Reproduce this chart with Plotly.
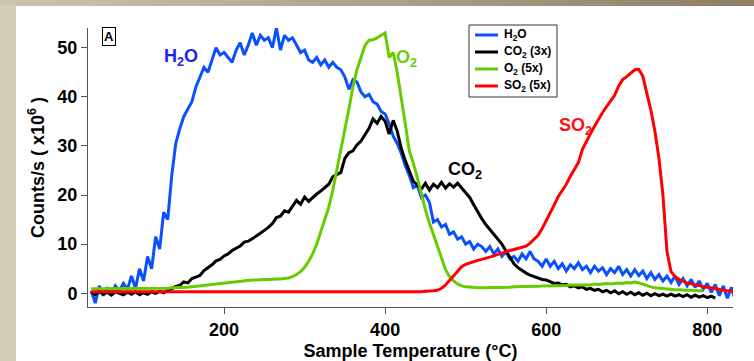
import plotly.graph_objects as go

# ---------------- data ----------------
temp_h2o = list(range(35, 840, 5))
h2o = [
    0.5, -2.0, 1.5, -0.5, 1.2, -0.3, 1.5, 0.5, 2.0, 0.8,
    3.5, 1.0, 5.0, 2.5, 7.5, 5.0, 11.5, 9.0, 16.5, 15.0,
    24.0, 30.5, 33.5, 36.0, 37.5, 39.0, 42.0, 44.0, 46.0, 45.0,
    47.5, 50.0, 48.5, 49.0, 48.0, 47.0, 49.5, 51.0, 48.5, 50.5,
    53.0, 50.5, 52.5, 51.5, 52.0, 50.0, 54.0, 49.5, 52.5, 51.5,
    52.0, 50.5, 49.0, 49.5, 47.5, 47.0, 48.0, 46.5, 47.5, 46.0,
    47.0, 46.0, 45.5, 44.0, 41.5, 43.5, 43.0, 41.0, 40.0, 40.5,
    39.0, 38.5, 37.0, 36.5, 34.5, 32.0, 30.5, 28.5, 26.0, 24.0,
    21.5, 22.0, 19.5, 20.0, 18.5, 14.5, 15.0, 13.5, 14.0, 12.0,
    12.5, 11.0, 11.5, 10.0, 10.5, 9.0, 10.0, 9.5, 8.5, 9.5,
    8.0, 9.0, 7.5, 8.5, 7.0, 7.5, 6.5, 8.0, 7.0, 8.5,
    7.0, 6.5, 5.5, 7.0, 5.5, 6.5, 5.0, 6.0, 4.5, 5.8,
    5.0, 6.2, 4.8, 5.5, 4.2, 5.5, 4.5, 5.2, 3.8, 5.0,
    4.2, 5.5, 3.8, 4.8, 3.5, 4.8, 3.6, 4.5, 3.0, 4.2,
    2.8, 3.8, 2.5, 3.5, 2.2, 3.5, 1.8, 3.0, 1.5, 2.8,
    1.2, 2.5, 0.8, 2.0, 0.2, 1.8, -0.5, 1.5, -1.0, 1.2,
    -1.5,
]

temp_co2 = list(range(35, 815, 5))
co2_3x = [
    0.2, -0.3, 0.3, -0.2, 0.2, -0.4, 0.3, 0.0, -0.3, 0.2,
    -0.2, 0.3, -0.3, 0.1, -0.2, 0.3, 0.0, 0.4, 0.1, 0.6,
    0.9, 1.4, 1.6, 2.3, 2.1, 3.0, 3.3, 3.6, 4.6, 5.2,
    5.8, 6.6, 6.9, 7.6, 8.0, 8.7, 9.2, 9.6, 10.4, 10.6,
    11.1, 11.6, 12.2, 12.8, 13.4, 14.2, 15.4, 15.7, 16.8, 16.5,
    17.8, 18.9, 18.1, 19.6, 18.7, 19.5, 20.2, 20.8, 21.6, 22.2,
    23.7, 24.2, 24.6, 27.5, 28.6, 29.0, 30.2, 31.0, 32.4, 33.6,
    35.5, 34.6, 36.0, 35.0, 32.4, 35.2, 33.0, 29.5, 27.0, 25.0,
    22.8, 22.0, 21.2, 22.4, 21.0, 22.2, 21.5, 22.6, 21.4, 22.3,
    21.6, 22.4, 21.4, 20.6, 19.5, 18.0, 16.5, 15.2, 14.0, 13.0,
    12.2, 11.2, 10.0, 8.6, 7.2, 6.0, 5.2, 4.6, 4.1, 3.7,
    3.4, 3.1, 2.8, 2.7, 2.4, 2.0, 2.1, 1.7, 1.8, 1.3,
    1.5, 1.1, 1.3, 0.8, 1.0, 0.6, 0.8, 0.3, 0.6, 0.1,
    0.5, -0.1, 0.3, -0.2, 0.2, -0.3, 0.1, -0.4, 0.0, -0.5,
    -0.1, -0.5, -0.2, -0.6, -0.2, -0.6, -0.3, -0.7, -0.3, -0.8,
    -0.4, -0.8, -0.5, -0.9, -0.6, -1.0,
]

temp_o2 = list(range(35, 800, 5))
o2_5x = [
    0.9, 0.9, 0.9, 0.9, 0.9, 0.9, 0.9, 0.9, 0.9, 0.9,
    1.0, 1.0, 1.0, 1.0, 1.0, 1.0, 1.0, 1.0, 1.0, 1.0,
    1.1, 1.1, 1.1, 1.2, 1.2, 1.3, 1.4, 1.5, 1.6, 1.7,
    1.8, 1.9, 2.0, 2.1, 2.2, 2.3, 2.4, 2.5, 2.6, 2.6,
    2.7, 2.7, 2.8, 2.8, 2.8, 2.9, 2.9, 2.9, 3.0, 3.1,
    3.4, 3.8, 4.4, 5.3, 6.5, 8.0, 10.0, 12.5, 14.8, 17.5,
    21.0, 25.0, 29.5, 33.5, 37.5, 42.0, 45.5, 48.0, 50.5, 51.5,
    51.6, 52.0, 52.5, 53.0, 48.0, 49.0, 45.0, 40.0, 34.5, 29.0,
    26.5, 23.5, 20.0, 17.0, 14.3, 12.0, 9.5, 7.0, 4.8, 3.4,
    2.5, 1.9, 1.5, 1.3, 1.2, 1.1, 1.1, 1.1, 1.1, 1.1,
    1.1, 1.2, 1.2, 1.2, 1.2, 1.3, 1.3, 1.3, 1.3, 1.4,
    1.4, 1.4, 1.5, 1.5, 1.5, 1.5, 1.6, 1.6, 1.6, 1.7,
    1.7, 1.7, 1.8, 1.8, 1.7, 1.9, 1.8, 1.9, 2.0, 1.9,
    2.0, 2.1, 2.0, 2.2, 2.1, 2.3, 2.1, 1.8, 1.5, 1.3,
    1.1, 1.0, 0.9, 0.8, 0.8, 0.7, 0.7, 0.6, 0.6, 0.6,
    0.5, 0.5, 0.5,
]

temp_so2 = list(range(35, 840, 5))
so2_5x = [
    0.3, 0.3, 0.2, 0.2, 0.3, 0.2, 0.2, 0.3, 0.2, 0.2,
    0.2, 0.3, 0.2, 0.2, 0.3, 0.2, 0.2, 0.3, 0.2, 0.2,
    0.2, 0.3, 0.2, 0.2, 0.3, 0.2, 0.2, 0.2, 0.3, 0.2,
    0.2, 0.2, 0.3, 0.2, 0.2, 0.2, 0.3, 0.2, 0.2, 0.2,
    0.3, 0.2, 0.2, 0.2, 0.3, 0.2, 0.2, 0.2, 0.2, 0.3,
    0.2, 0.2, 0.2, 0.3, 0.2, 0.2, 0.2, 0.2, 0.3, 0.2,
    0.2, 0.2, 0.3, 0.2, 0.2, 0.2, 0.3, 0.2, 0.2, 0.3,
    0.3, 0.2, 0.3, 0.3, 0.2, 0.3, 0.3, 0.3, 0.3, 0.3,
    0.3, 0.3, 0.3, 0.4, 0.4, 0.5, 0.6, 1.0, 1.7, 2.6,
    3.6, 4.6, 5.4, 5.9, 6.2, 6.5, 6.7, 6.9, 7.1, 7.4,
    7.6, 7.9, 8.2, 8.4, 8.7, 8.9, 9.1, 9.3, 9.6, 10.2,
    11.0, 11.8, 13.2, 14.7, 16.3, 18.0, 19.7, 21.0, 22.2, 23.8,
    25.2, 26.6, 29.3, 31.0, 32.5, 34.0, 35.5, 36.8, 38.0, 39.2,
    40.3, 42.2, 43.5, 44.1, 44.8, 45.5, 45.6, 44.2, 40.7, 37.3,
    33.0, 27.5, 20.0, 8.5, 4.4, 3.4, 2.8, 2.4, 2.1, 1.9,
    1.7, 1.5, 1.4, 1.2, 1.1, 0.9, 0.7, 0.6, 0.5, 0.4,
    0.3,
]

series_names = ["H<sub>2</sub>O", "CO<sub>2</sub> (3x)", "O<sub>2</sub> (5x)", "SO<sub>2</sub> (5x)"]
series_labels = ["H<sub>2</sub>O", "CO<sub>2</sub>", "O<sub>2</sub>", "SO<sub>2</sub>"]
x_ticks = [200, 400, 600, 800]
y_ticks = [0, 10, 20, 30, 40, 50]

# ---------------- style ----------------
colors = ["#0a50ff", "#000000", "#66cc00", "#ff0000"]
label_colors = ["#1c24f0", "#000000", "#66cc11", "#ff1010"]
FONT = "Liberation Sans, Arial, sans-serif"
W, H = 754, 361
PL, PR, PT, PB = 88, 733, 28, 307  # plot-area pixel box


def px(xp):
    return (xp - PL) / (PR - PL)


def py(yp):
    return (PB - yp) / (PB - PT)


fig = go.Figure()
for t, v, name, c in zip([temp_h2o, temp_co2, temp_o2, temp_so2],
                         [h2o, co2_3x, o2_5x, so2_5x], series_names, colors):
    fig.add_trace(go.Scatter(x=t, y=v, mode="lines", name=name,
                             line=dict(color=c, width=3), showlegend=False))

shapes = []
# white slide panel
shapes.append(dict(type="rect", xref="paper", yref="paper", x0=px(16), x1=px(W + 20),
                   y0=py(H + 20), y1=py(6), fillcolor="white", line=dict(width=0), layer="below"))
# top gradient strip
nseg = 40
c0 = (205, 198, 171)
c1 = (141, 126, 100)
for i in range(nseg):
    f = (i + 0.5) / nseg
    col = "rgb(%d,%d,%d)" % tuple(round(a + (b - a) * f) for a, b in zip(c0, c1))
    shapes.append(dict(type="rect", xref="paper", yref="paper",
                       x0=px(W * i / nseg - 0.5), x1=px(W * (i + 1) / nseg + 0.5),
                       y0=py(6), y1=py(-2), fillcolor=col, line=dict(width=0), layer="below"))

# manual legend
shapes.append(dict(type="rect", xref="paper", yref="paper", x0=px(469), x1=px(557),
                   y0=py(97), y1=py(25), fillcolor="white",
                   line=dict(color="#333333", width=1), layer="above"))
annotations = []
leg_y = [35, 52, 69, 86]
for name, c, yy in zip(series_names, colors, leg_y):
    shapes.append(dict(type="line", xref="paper", yref="paper", x0=px(475), x1=px(498),
                       y0=py(yy), y1=py(yy), line=dict(color=c, width=3), layer="above"))
    annotations.append(dict(xref="paper", yref="paper", x=px(502), y=py(yy), text=name,
                            xanchor="left", yanchor="middle", showarrow=False,
                            font=dict(family=FONT, size=12, color="black", weight="bold")))

# curve labels
label_pos = [(146, 48.0), (499, 25.0), (426, 47.8), (636, 34.0)]
for lab, c, (lx, ly) in zip(series_labels, label_colors, label_pos):
    annotations.append(dict(x=lx, y=ly, text=lab, showarrow=False, xanchor="center", yanchor="middle",
                            font=dict(family=FONT, size=18, color=c, weight="bold")))

# panel letter
annotations.append(dict(xref="paper", yref="paper", x=px(108.5), y=py(36), text="A", showarrow=False,
                        xanchor="center", yanchor="middle", bordercolor="black", borderwidth=1, borderpad=1,
                        bgcolor="white", font=dict(family=FONT, size=13, color="black", weight="bold")))

axis_common = dict(showline=True, linecolor="#555555", linewidth=1, ticks="outside", ticklen=6,
                   tickwidth=1, tickcolor="#555555", showgrid=False, zeroline=False, mirror=False,
                   tickfont=dict(family=FONT, size=18, color="black", weight="bold"))

fig.update_layout(
    width=W, height=H, autosize=False,
    margin=dict(l=PL, r=W - PR, t=PT, b=H - PB, pad=0),
    paper_bgcolor="#d4cdb7", plot_bgcolor="rgba(0,0,0,0)",
    shapes=shapes, annotations=annotations,
    xaxis=dict(range=[31, 832], tickvals=x_ticks, automargin=False,
               title=dict(text="Sample Temperature (°C)", standoff=6,
                          font=dict(family=FONT, size=18, color="black", weight="bold")),
               **axis_common),
    yaxis=dict(range=[-2.8, 54.0], tickvals=y_ticks, automargin=False,
               title=dict(text="Counts/s ( x10<sup>6</sup> )", standoff=8,
                          font=dict(family=FONT, size=18, color="black", weight="bold")),
               **axis_common),
)

fig.write_html("out.html")
